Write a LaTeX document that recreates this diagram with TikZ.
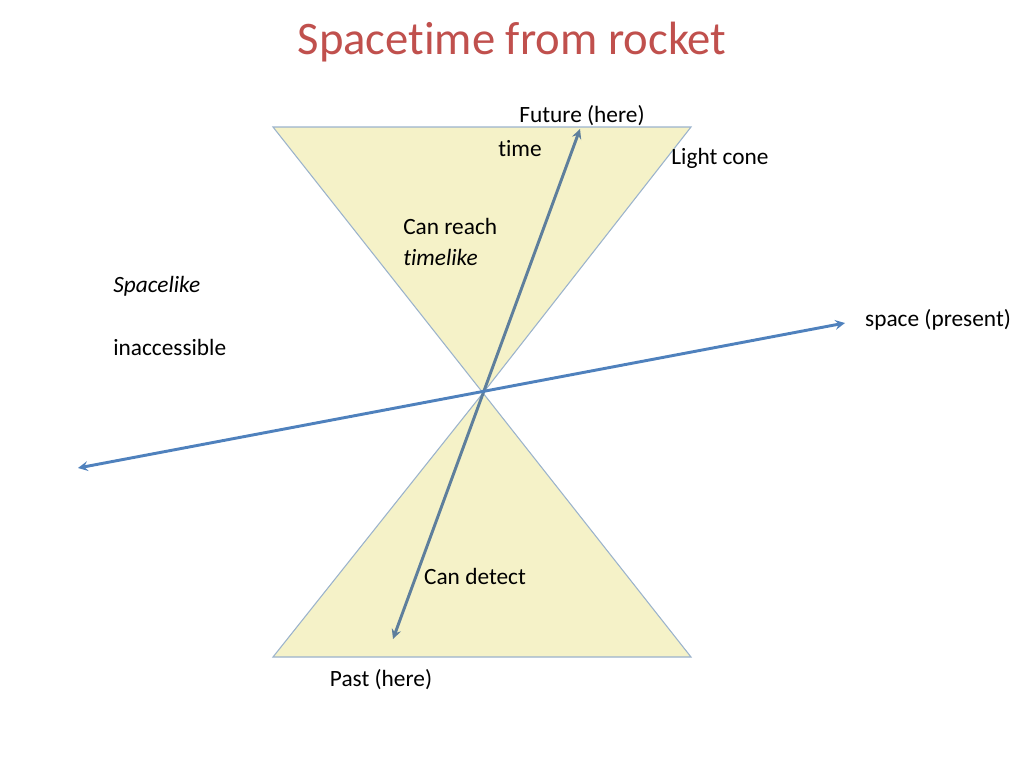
\documentclass[tikz,border=0pt]{standalone}
\usepackage{fontspec}
\setmainfont[Ligatures={NoCommon,NoContextual}]{Carlito}
\definecolor{conefill}{HTML}{F5F2C8}
\definecolor{coneline}{HTML}{9BB3CC}
\definecolor{timeaxis}{HTML}{5E7F9C}
\definecolor{spaceaxis}{HTML}{4F81BD}
\definecolor{titlered}{HTML}{C0504D}
\tikzset{
  cone/.style={fill=conefill, draw=coneline, line width=0.8pt},
  axis/.style={line width=2.2pt, <->, >=stealth},
  lbl/.style={inner sep=0pt, font=\fontsize{17.5}{21}\selectfont}
}
\begin{document}
\begin{tikzpicture}[x=0.75pt, y=-0.75pt]
        \useasboundingbox (0,0) rectangle (1024,768);

        \coordinate (o) at (483,393);
        \coordinate (tl) at (273,127);
        \coordinate (tr) at (691,127);
        \coordinate (bl) at (273,657);
        \coordinate (br) at (691,657);
        \draw[cone] (tl) -- (tr) -- (o) -- cycle;
        \draw[cone] (bl) -- (br) -- (o) -- cycle;

        \coordinate (future) at (580,129);
        \coordinate (past) at (393,639);
        \coordinate (left) at (78,468);
        \coordinate (right) at (845,323);
        \draw[axis, timeaxis] (past) -- (future);
        \draw[axis, spaceaxis] (left) -- (right);

        \node[font=\fontsize{35}{40}\selectfont, text=titlered] (title) at (512,42) {Spacetime from rocket};
        \node[lbl] (fut) at (582,116) {Future (here)};
        \node[lbl] (time) at (520,149) {time};
        \node[lbl] (cone) at (720,158) {Light cone};
        \node[lbl, anchor=west] (reach) at (403,226) {Can reach};
        \node[lbl, anchor=west] (tlike) at (403,257) {\itshape timelike};
        \node[lbl, anchor=west] (slike) at (113,286) {\itshape Spacelike};
        \node[lbl, anchor=west] (inacc) at (113,347) {inaccessible};
        \node[lbl] (space) at (938,320) {space (present)};
        \node[lbl] (detect) at (475,576) {Can detect};
        \node[lbl] (pst) at (381,680) {Past (here)};
    \end{tikzpicture}
\end{document}
